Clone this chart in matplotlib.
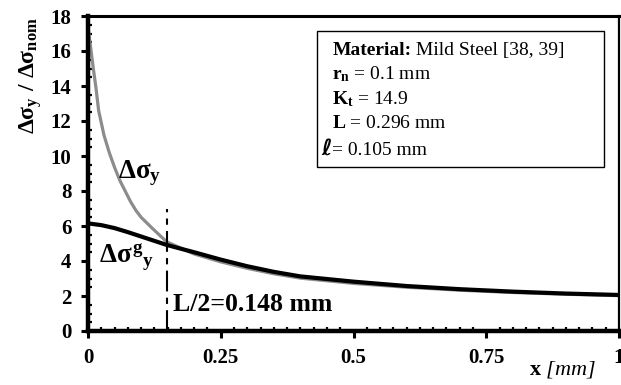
import matplotlib
matplotlib.use("Agg")
import matplotlib.pyplot as plt
from matplotlib.patches import Rectangle
from matplotlib.ticker import MultipleLocator

plt.rcParams['font.family'] = ['Liberation Serif', 'DejaVu Serif']
plt.rcParams['mathtext.fontset'] = 'custom'
plt.rcParams['mathtext.rm'] = 'Liberation Serif:bold'
plt.rcParams['mathtext.it'] = 'Liberation Serif:bold'
plt.rcParams['mathtext.bf'] = 'Liberation Serif:bold'

# Linear-elastic stress range (grey)
x_lin = [0, 0.005, 0.01, 0.015, 0.02, 0.03, 0.04, 0.05, 0.06, 0.07, 0.08, 0.09, 0.1, 0.12,
         0.148, 0.2, 0.25, 0.3, 0.35, 0.4, 0.5, 0.6, 0.7, 0.8, 0.9, 1.0]
s_lin = [17.4, 16.2, 15.0, 13.9, 12.6, 11.2, 10.2, 9.35, 8.6, 8.0, 7.4, 6.9, 6.5, 5.9,
         5.1, 4.4, 3.95, 3.58, 3.27, 3.02, 2.72, 2.5, 2.33, 2.2, 2.1, 2.02]

# Gradient stress range (black)
x_grad = [0, 0.025, 0.05, 0.075, 0.1, 0.125, 0.148, 0.175, 0.2, 0.25, 0.3, 0.35, 0.4,
          0.5, 0.6, 0.7, 0.8, 0.9, 1.0]
s_grad = [6.15, 6.05, 5.88, 5.65, 5.4, 5.15, 4.92, 4.7, 4.5, 4.08, 3.7, 3.38, 3.12,
          2.82, 2.57, 2.39, 2.25, 2.14, 2.06]

half_L = 0.148
half_L_top = 7.0

x_ticks = [0, 0.25, 0.5, 0.75, 1.0]
x_tick_labels = ['0', '0.25', '0.5', '0.75', '1']
y_ticks = list(range(0, 19, 2))

fig = plt.figure(figsize=(6.21, 3.85), dpi=100)
ax = fig.add_axes([88/621, (385-331)/385, (619-88)/621, (331-16)/385])

ax.plot(x_lin, s_lin, color='#8c8c8c', lw=2.3, solid_capstyle='butt', zorder=2)
ax.plot(x_grad, s_grad, color='black', lw=3.0, zorder=3)
ax.plot([half_L, half_L], [0, half_L_top], color='black', lw=1.5,
        linestyle=(0, (10, 3, 3, 3)), zorder=4)

ax.set_xlim(0, 1)
ax.set_ylim(0, 18)
ax.set_xticks(x_ticks)
ax.set_xticklabels(x_tick_labels)
ax.set_yticks(y_ticks)
ax.xaxis.set_minor_locator(MultipleLocator(0.025))
ax.yaxis.set_minor_locator(MultipleLocator(0.5))
ax.tick_params(which='major', direction='out', length=5, width=2.2,
               labelsize=15, pad=7)
ax.tick_params(axis='y', which='major', pad=7)
ax.tick_params(which='minor', direction='in', length=3, width=1.6)
for lab in ax.get_xticklabels() + ax.get_yticklabels():
    lab.set_fontweight('bold')

ax.spines['left'].set_linewidth(3.2)
ax.spines['bottom'].set_linewidth(3.2)
ax.spines['top'].set_linewidth(2.2)
ax.spines['right'].set_linewidth(1.6)

ax.set_ylabel(r'$\Delta\sigma_{y}\ /\ \Delta\sigma_{nom}$', fontsize=17)
ax.yaxis.set_label_coords(-0.082, 0.81)
fig.text(563/621, (385-370)/385, r'$\mathbf{x}$ [mm]', fontsize=16,
         fontstyle='italic', ha='center', va='center')

ax.text(0.0565, 8.72, r'$\Delta\sigma_{y}$', fontsize=19.5, ha='left', va='baseline')
ax.text(0.020, 3.89, r'$\Delta\sigma^{g}{}_{y}$', fontsize=19.5, ha='left', va='baseline')
ax.text(0.160, 1.14, 'L/2=0.148 mm', fontsize=18.5, fontweight='bold',
        ha='left', va='baseline')

# info box
ax.add_patch(Rectangle((0.431, 9.37), 0.972-0.431, 17.15-9.37, fill=False,
                       edgecolor='black', lw=1.0, zorder=5))
bx = 0.460
fs = 14
t1 = ax.text(bx, 15.77, 'Material:', fontsize=fs, fontweight='bold', va='baseline')
ax.annotate(' Mild Steel [38, 39]', xy=(1, 0), xycoords=t1, va='bottom', ha='left',
            fontsize=fs)
ax.text(bx, 14.38, r'$\mathbf{r_n}$ = 0.1 mm', fontsize=fs, va='baseline')
ax.text(bx, 12.97, r'$\mathbf{K_t}$ = 14.9', fontsize=fs, va='baseline')
ax.text(bx, 11.61, r'$\mathbf{L}$ = 0.296 mm', fontsize=fs, va='baseline')
ax.text(0.440, 10.05, 'ℓ', fontsize=16, fontweight='bold', fontstyle='italic',
        family=['DejaVu Sans', 'DejaVu Serif', 'Noto Sans'], va='baseline')
ax.text(bx, 10.05, '= 0.105 mm', fontsize=fs, va='baseline')

fig.savefig('out.png', dpi=100)
